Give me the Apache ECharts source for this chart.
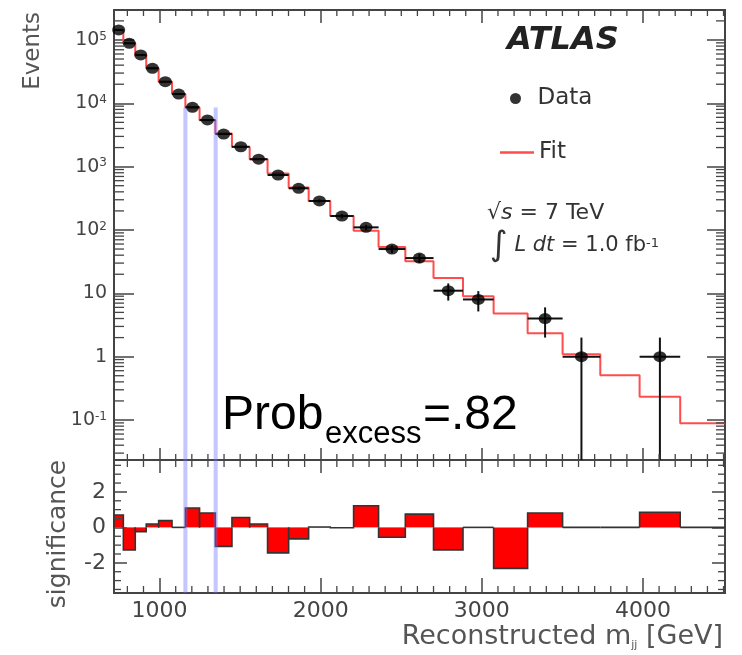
<!DOCTYPE html>
<html><head><meta charset="utf-8">
<script src="https://cdn.jsdelivr.net/npm/echarts@6/dist/echarts.min.js"></script>
<style>html,body{margin:0;padding:0;background:#fff}#c{width:742px;height:655px}</style>
</head><body><div id="c"></div>
<script>
// ---- data ----
const binEdges = [717, 775, 849, 917, 994, 1077, 1160, 1248, 1346, 1449, 1559, 1670, 1801, 1925, 2059, 2204, 2359, 2525, 2700, 2883, 3073, 3284, 3501, 3735, 3979, 4231, 4509];
const dataCounts = [144000, 88600, 58000, 35700, 21900, 14000, 8650, 5450, 3270, 2060, 1310, 738, 455, 287, 166, 110, 50, 36, 11, 8, 0, 4, 1, 0, 1, 0];
const fitValues = [143700, 88980, 58060, 35660, 21840, 14000, 8550, 5390, 3330, 2035, 1303, 777, 469, 287, 166, 97, 54, 32, 17.5, 9, 4.8, 2.34, 1.09, 0.51, 0.233, 0.089];
const significance = [0.70, -1.27, -0.24, 0.19, 0.38, 0, 1.09, 0.81, -1.07, 0.56, 0.19, -1.44, -0.65, 0.02, -0.02, 1.22, -0.56, 0.75, -1.27, 0, -2.31, 0.81, 0, 0, 0.85, 0];
const excessWindow = [1160, 1348];
const excessLineTop = 8600;
const xTickLabels = [1000, 2000, 3000, 4000];

// axis ranges
const X_MIN = 717, X_MAX = 4509;
const Y_MIN = 0.02336, Y_MAX = 2.97e5;
const S_MIN = -3.7, S_MAX = 3.8;

// minor tick positions
const xMinorTicks = [];
for (let v = 800; v < X_MAX; v += 100) if (v % 1000 !== 0) xMinorTicks.push(v);
const yMinorTicksTop = [];
for (let n = -2; n <= 5; n++) for (let k = 2; k <= 9; k++) { const v = k * Math.pow(10, n); if (v > Y_MIN && v < Y_MAX) yMinorTicksTop.push(v); }
const yMinorTicksBottom = [-3.5, -3, -2.5, -1.5, -1, -0.5, 0.5, 1, 1.5, 2.5, 3, 3.5];

// derived series data
const centers = dataCounts.map((_, i) => (binEdges[i] + binEdges[i + 1]) / 2);
const pointData = [], errData = [];
dataCounts.forEach((n, i) => { if (n > 0) { pointData.push([centers[i], n]); errData.push([centers[i], n, binEdges[i], binEdges[i + 1]]); } });
const fitLine = fitValues.map((f, i) => [binEdges[i], f]);
fitLine.push([binEdges[binEdges.length - 1], fitValues[fitValues.length - 1]]);
const sigData = significance.map((s, i) => [binEdges[i], binEdges[i + 1], s]);

const FONT = 'DejaVu Sans';
const TXT = '#444';
const TICK = '#444';
const FIT_RED = '#ff4d4d';

function logFmt(v) {
  const l = Math.log10(v), e = Math.round(l);
  if (Math.abs(l - e) > 1e-6) return '';
  if (e === 0) return '{b|1}';
  if (e === 1) return '{b|10}';
  return '{b|10}{s|' + e + '}';
}
const logRich = { b: { fontSize: 19, fontFamily: FONT, color: TXT }, s: { fontSize: 12, fontFamily: FONT, color: TXT, verticalAlign: 'top' } };

function xTickSeries(xi, yi, yRef, lenTop, lenBot) {
  return {
    type: 'custom', xAxisIndex: xi, yAxisIndex: yi, silent: true, z: 5,
    data: xMinorTicks.map(v => [v, yRef]), encode: { x: 0, y: 1 },
    renderItem(params, api) {
      const cs = params.coordSys;
      const x = api.coord([api.value(0), yRef])[0];
      return { type: 'group', children: [
        { type: 'line', shape: { x1: x, y1: cs.y, x2: x, y2: cs.y + lenTop }, style: { stroke: TICK, lineWidth: 1.3 } },
        { type: 'line', shape: { x1: x, y1: cs.y + cs.height, x2: x, y2: cs.y + cs.height - lenBot }, style: { stroke: TICK, lineWidth: 1.3 } }
      ] };
    }
  };
}
function yTickSeries(xi, yi, ticks, lenL, lenR) {
  return {
    type: 'custom', xAxisIndex: xi, yAxisIndex: yi, silent: true, z: 5,
    data: ticks.map(v => [X_MIN, v]), encode: { x: 0, y: 1 },
    renderItem(params, api) {
      const cs = params.coordSys;
      const y = api.coord([X_MIN, api.value(1)])[1];
      return { type: 'group', children: [
        { type: 'line', shape: { x1: cs.x, y1: y, x2: cs.x + lenL, y2: y }, style: { stroke: TICK, lineWidth: 1.3 } },
        { type: 'line', shape: { x1: cs.x + cs.width, y1: y, x2: cs.x + cs.width - lenR, y2: y }, style: { stroke: TICK, lineWidth: 1.3 } }
      ] };
    }
  };
}

const noLine = { axisLine: { show: false, onZero: false }, splitLine: { show: false } };
function xAx(grid, pos, tickLen, labels) {
  return Object.assign({
    gridIndex: grid, type: 'value', min: X_MIN, max: X_MAX, splitNumber: 4, position: pos,
    axisTick: { inside: true, length: tickLen, lineStyle: { color: TICK, width: 1.5 } },
    axisLabel: labels ? {
      show: true, margin: 7, fontSize: 22, fontFamily: FONT, color: TXT,
      formatter: v => (xTickLabels.indexOf(Math.round(v)) >= 0 && Math.abs(v - Math.round(v)) < 1e-6 ? String(Math.round(v)) : '')
    } : { show: false }
  }, noLine);
}

const chart = echarts.init(document.getElementById('c'), null, { renderer: 'canvas' });
const option = {
  animation: false,
  backgroundColor: '#fff',
  textStyle: { fontFamily: FONT },
  grid: [
    { left: 114, right: 17, top: 10, height: 450, show: true, borderColor: '#444', borderWidth: 2, backgroundColor: 'transparent' },
    { left: 114, right: 17, top: 460, height: 133, show: true, borderColor: '#444', borderWidth: 2, backgroundColor: 'transparent' }
  ],
  xAxis: [
    xAx(0, 'bottom', 12, false),
    xAx(0, 'top', 13, false),
    xAx(1, 'bottom', 15, true),
    xAx(1, 'top', 13, false)
  ],
  yAxis: [
    Object.assign({ gridIndex: 0, type: 'log', logBase: 10, min: Y_MIN, max: Y_MAX, position: 'left',
      axisTick: { inside: true, length: 20, lineStyle: { color: TICK, width: 1.5 } },
      axisLabel: { margin: 7, formatter: logFmt, rich: logRich } }, noLine),
    Object.assign({ gridIndex: 0, type: 'log', logBase: 10, min: Y_MIN, max: Y_MAX, position: 'right',
      axisTick: { inside: true, length: 18, lineStyle: { color: TICK, width: 1.5 } }, axisLabel: { show: false } }, noLine),
    Object.assign({ gridIndex: 1, type: 'value', min: S_MIN, max: S_MAX, splitNumber: 4, position: 'left',
      axisTick: { inside: true, length: 13, lineStyle: { color: TICK, width: 1.5 } },
      axisLabel: { margin: 8, fontSize: 22, fontFamily: FONT, color: TXT,
        formatter: v => { const r = Math.round(v); return (Math.abs(v - r) < 1e-6 && r % 2 === 0 && v > S_MIN && v < S_MAX) ? String(r) : ''; } } }, noLine),
    Object.assign({ gridIndex: 1, type: 'value', min: S_MIN, max: S_MAX, splitNumber: 4, position: 'right',
      axisTick: { inside: true, length: 13, lineStyle: { color: TICK, width: 1.5 } }, axisLabel: { show: false } }, noLine)
  ],
  legend: [
    {
      orient: 'vertical', left: 505, top: 82, itemWidth: 34, itemHeight: 11,
      textStyle: { fontSize: 23, fontFamily: FONT, color: '#333' },
      data: [{ name: 'Data', icon: 'circle', itemStyle: { color: '#000' } }], selectedMode: false
    },
    {
      orient: 'vertical', left: 495, top: 136, itemWidth: 34, itemHeight: 2.5,
      textStyle: { fontSize: 23, fontFamily: FONT, color: '#333' },
      data: [{ name: 'Fit', icon: 'rect', itemStyle: { color: FIT_RED } }], selectedMode: false
    }
  ],
  series: [
    xTickSeries(0, 0, Y_MIN * 2, 6, 6),
    xTickSeries(2, 2, 0, 7, 7),
    yTickSeries(0, 0, yMinorTicksTop, 10, 9),
    yTickSeries(2, 2, yMinorTicksBottom, 7, 7),
    {
      name: 'Fit', type: 'line', xAxisIndex: 0, yAxisIndex: 0, data: fitLine, step: 'end',
      symbol: 'none', showSymbol: false, lineStyle: { color: FIT_RED, width: 2 }, itemStyle: { color: FIT_RED }, z: 2
    },
    {
      type: 'custom', name: 'DataErr', xAxisIndex: 0, yAxisIndex: 0, data: errData, encode: { x: 0, y: 1 }, z: 3, silent: true,
      renderItem(params, api) {
        const cs = params.coordSys;
        const x = api.value(0), n = api.value(1), lo = api.value(2), hi = api.value(3);
        const e = Math.sqrt(n);
        const pl = api.coord([lo, n]), pr = api.coord([hi, n]);
        const top = api.coord([x, n + e]);
        const bot = (n - e) > Y_MIN ? api.coord([x, n - e]) : [top[0], cs.y + cs.height];
        return { type: 'group', children: [
          { type: 'line', shape: { x1: pl[0], y1: pl[1], x2: pr[0], y2: pr[1] }, style: { stroke: '#111', lineWidth: 2 } },
          { type: 'line', shape: { x1: top[0], y1: top[1], x2: bot[0], y2: bot[1] }, style: { stroke: '#111', lineWidth: 2 } }
        ] };
      }
    },
    {
      name: 'Data', type: 'scatter', xAxisIndex: 0, yAxisIndex: 0, data: pointData,
      symbol: 'circle', symbolSize: [13, 11], itemStyle: { color: '#000' }, z: 4
    },
    {
      type: 'custom', name: 'Significance', xAxisIndex: 2, yAxisIndex: 2, data: sigData, encode: { x: [0, 1], y: 2 }, z: 2, silent: true,
      renderItem(params, api) {
        const lo = api.value(0), hi = api.value(1), s = api.value(2);
        const p0 = api.coord([lo, 0]), p1 = api.coord([hi, s]);
        const children = [];
        if (s !== 0) children.push({ type: 'rect', shape: { x: p0[0], y: Math.min(p0[1], p1[1]), width: p1[0] - p0[0], height: Math.abs(p1[1] - p0[1]) }, style: { fill: '#ff0000' } });
        children.push({ type: 'polyline', shape: { points: [[p0[0], p0[1]], [p0[0], p1[1]], [p1[0], p1[1]], [p1[0], p0[1]]] }, style: { stroke: '#333', lineWidth: 1.6, fill: null } });
        return { type: 'group', children };
      }
    },
    {
      type: 'custom', name: 'WindowTop', xAxisIndex: 0, yAxisIndex: 0, data: excessWindow.map(v => [v, excessLineTop]), encode: { x: 0, y: 1 }, z: 6, silent: true,
      renderItem(params, api) {
        const cs = params.coordSys;
        const p = api.coord([api.value(0), api.value(1)]);
        return { type: 'line', shape: { x1: p[0], y1: p[1], x2: p[0], y2: cs.y + cs.height }, style: { stroke: 'rgba(110,110,255,0.4)', lineWidth: 4 } };
      }
    },
    {
      type: 'custom', name: 'WindowBottom', xAxisIndex: 2, yAxisIndex: 2, data: excessWindow.map(v => [v, 0]), encode: { x: 0, y: 1 }, z: 6, silent: true,
      renderItem(params, api) {
        const cs = params.coordSys;
        const p = api.coord([api.value(0), 0]);
        return { type: 'line', shape: { x1: p[0], y1: cs.y, x2: p[0], y2: cs.y + cs.height }, style: { stroke: 'rgba(110,110,255,0.4)', lineWidth: 4 } };
      }
    }
  ],
  graphic: [
    { type: 'text', x: 33, y: 12, rotation: Math.PI / 2, style: { text: 'Events', fontSize: 23, fontFamily: FONT, fill: '#555', align: 'right', verticalAlign: 'middle' } },
    { type: 'text', x: 58, y: 534, rotation: Math.PI / 2, style: { text: 'significance', fontSize: 25, fontFamily: FONT, fill: '#555', align: 'center', verticalAlign: 'middle' } },
    { type: 'text', x: 723, y: 637, style: { text: '{a|Reconstructed m}{s|jj}{a| [GeV]}', align: 'right', verticalAlign: 'middle',
      rich: { a: { fontSize: 27, fontFamily: FONT, fill: '#555' }, s: { fontSize: 11, fontFamily: FONT, fill: '#555', verticalAlign: 'bottom' } } } },
    { type: 'text', x: 507, y: 41, style: { text: 'ATLAS', fontSize: 32, fontWeight: 'bold', fontStyle: 'italic', fontFamily: FONT, fill: '#222', align: 'left', verticalAlign: 'middle' } },
    { type: 'text', x: 487, y: 213, style: { text: '{r|√}{i|s}{n| = 7 TeV}', align: 'left', verticalAlign: 'middle',
      rich: { r: { fontSize: 22, fontFamily: FONT, fill: '#333' }, i: { fontSize: 22, fontFamily: FONT, fontStyle: 'italic', fill: '#333' }, n: { fontSize: 22, fontFamily: FONT, fill: '#333' } } } },
    { type: 'text', x: 490, y: 246, style: { text: '{int|∫}{n| }{i|L dt}{n| = 1.0 fb}{s|-1}', align: 'left', verticalAlign: 'middle',
      rich: { int: { fontSize: 34, fontFamily: FONT, fill: '#333' }, i: { fontSize: 21, fontFamily: FONT, fontStyle: 'italic', fill: '#333' }, n: { fontSize: 21, fontFamily: FONT, fill: '#333' }, s: { fontSize: 13, fontFamily: FONT, fill: '#333', verticalAlign: 'top', padding: [8, 0, 0, 0] } } } },
    { type: 'text', x: 222, y: 416, style: { text: 'Prob', fontSize: 48, fontFamily: 'Liberation Sans', fill: '#000', align: 'left', verticalAlign: 'middle' } },
    { type: 'text', x: 325, y: 434, style: { text: 'excess', fontSize: 31, fontFamily: 'Liberation Sans', fill: '#000', align: 'left', verticalAlign: 'middle' } },
    { type: 'text', x: 423, y: 416, style: { text: '=.82', fontSize: 48, fontFamily: 'Liberation Sans', fill: '#000', align: 'left', verticalAlign: 'middle' } }
  ]
};
chart.setOption(option);
</script>
</body></html>
